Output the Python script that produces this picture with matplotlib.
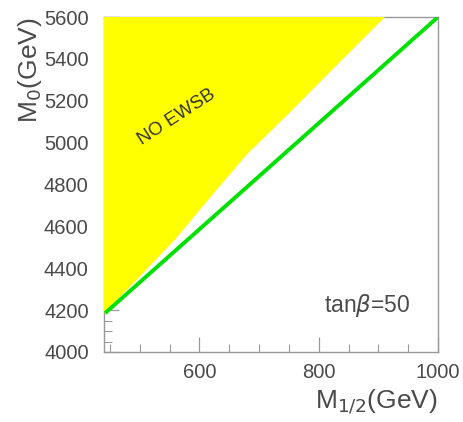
import numpy as np
import matplotlib.pyplot as plt
from matplotlib.ticker import MultipleLocator

# limite de la zone sans EWSB (M1/2, M0)
m12_edge = [440, 500, 560, 620, 680, 750, 827, 911]
m0_edge = [4186, 4360, 4540, 4745, 4945, 5140, 5361, 5600]

# ligne verte (LSP)
m12_green = [442, 720, 1000]
m0_green = [4186, 4890, 5600]

x_min, x_max = 440, 1000
y_min, y_max = 4000, 5600

plt.rcParams['font.family'] = ['Liberation Sans', 'DejaVu Sans']
txt = '#4a4a4a'
edge = '#999999'

fig = plt.figure(figsize=(4.64, 4.22), dpi=100)
ax = fig.add_axes([0.2241, 0.1659, 0.7198, 0.7938])

# zone jaune : au-dessus de la limite (cache les ticks et les axes)
poly_x = [x_min] + m12_edge
poly_y = [y_max] + m0_edge
ax.fill(poly_x, poly_y, color='#ffff00', lw=0, zorder=3)

ax.plot(m12_green, m0_green, color='#00e000', lw=2.8, solid_capstyle='butt', zorder=4)

ax.text(562, 5122, 'NO EWSB', rotation=33, ha='center', va='center',
        fontsize=13.5, color='#333333', zorder=5)
ax.text(953, 4220, r'tan$\beta$=50', ha='right', va='center',
        fontsize=16.5, color=txt, zorder=5)

ax.set_xlim(x_min, x_max)
ax.set_ylim(y_min, y_max)
ax.xaxis.set_major_locator(MultipleLocator(200))
ax.xaxis.set_minor_locator(MultipleLocator(50))
ax.yaxis.set_major_locator(MultipleLocator(200))
ax.yaxis.set_minor_locator(MultipleLocator(50))
ax.tick_params(which='both', direction='in', colors=edge, labelcolor=txt,
               labelsize=14.5, top=False, right=False)
ax.tick_params(which='major', length=11, width=0.9)
ax.tick_params(axis='y', which='major', pad=11)
ax.tick_params(axis='x', which='major', pad=8)
ax.tick_params(which='minor', length=6, width=0.8)
for s in ax.spines.values():
    s.set_color(edge)
    s.set_linewidth(1.0)

ax.set_xlabel(r'M$_{1/2}$(GeV)', fontsize=19, color=txt, loc='right', labelpad=4)
ax.set_ylabel(r'M$_{0}$(GeV)', fontsize=19, color=txt, loc='top', labelpad=0)

fig.savefig('out.png', dpi=100)
